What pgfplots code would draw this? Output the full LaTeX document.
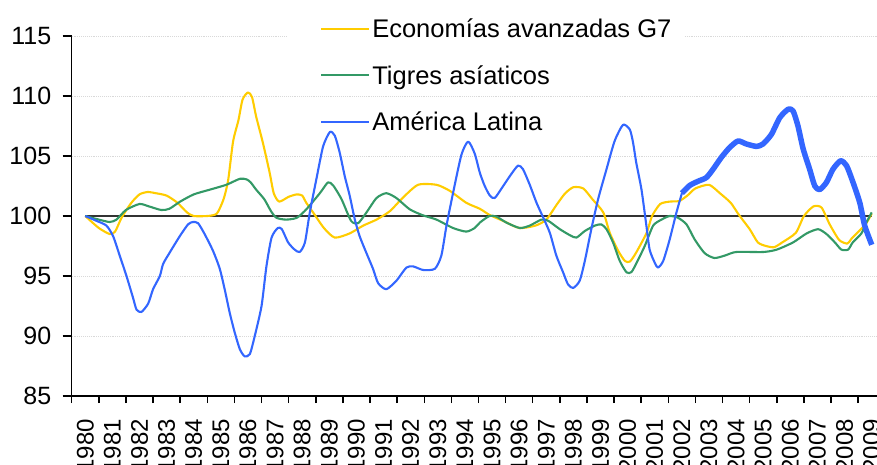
\documentclass[border=0pt]{standalone}
\usepackage{fontspec}
\setmainfont{Liberation Sans}
\usepackage{pgfplots}
\pgfplotsset{compat=1.18}
\definecolor{cY}{HTML}{FFCC00}
\definecolor{cG}{HTML}{339966}
\definecolor{cB}{HTML}{3366FF}
\definecolor{cGrid}{HTML}{D9D9D9}
\begin{document}
\begin{tikzpicture}
\begin{axis}[
  at={(0,0)}, anchor=south west,
  scale only axis, width=813.6bp, height=360bp,
  xmin=1979.5, xmax=2009.5, ymin=85, ymax=115,
  axis x line=bottom, axis y line=left,
  axis line style={-, line width=1.5bp, black},
  xtick={1980,...,2009},
  minor xtick={1979.5,1980.5,...,2009.5},
  ytick={85,90,...,115},
  extra y ticks={90,95,105,110},
  extra y tick labels={},
  extra y tick style={grid=major, major tick length=0pt},
  tick align=outside,
  major tick length=9bp, minor tick length=7bp,
  tick style={black, line width=1.5bp},
  major x tick style={draw=none},
  /pgf/number format/1000 sep={},
  /pgf/number format/assume math mode=true,
  tick label style={font=\fontsize{25bp}{29bp}\selectfont},
  xticklabel style={rotate=90, anchor=east, font=\fontsize{24bp}{28bp}\selectfont},
  xticklabel shift=10.5bp,
  yticklabel shift=8bp,
  grid style={cGrid, line width=0.9bp, densely dotted},
  legend style={at={(0.288,1.07)}, anchor=north west, draw=none, fill=none,
    font=\fontsize{25.5bp}{29bp}\selectfont, row sep=22bp, inner xsep=14bp, inner ysep=6bp,
    cells={anchor=west}},
  legend image code/.code={\draw[#1, line width=2.1bp] (0bp,0bp) -- (48bp,0bp);},
  every axis plot/.append style={line join=round},
]
% 115 gridline, interrupted behind the legend
\addplot[cGrid, line width=0.9bp, densely dotted, forget plot] coordinates {(1979.5,115) (1987.44,115)};
\addplot[cGrid, line width=0.9bp, densely dotted, forget plot] coordinates {(2002.11,115) (2009.5,115)};
\addplot[black!80, line width=2bp, forget plot] coordinates {(1980,100) (2009,100)};

\addplot[cY, line width=2.1bp, smooth, tension=0.4] coordinates {
(1980,100) (1980.5,99.0) (1980.9,98.5) (1981.1,98.7) (1981.35,99.9) (1981.7,101.1) (1982,101.8) (1982.3,102.0) (1982.6,101.9) (1983,101.7) (1983.4,101.1) (1983.75,100.3) (1984,100) (1984.5,100) (1984.85,100.2) (1985.1,101.4) (1985.27,103) (1985.45,106.2) (1985.65,108) (1985.8,109.7) (1986,110.3) (1986.15,109.9) (1986.3,108.3) (1986.55,106.1) (1986.8,103.6) (1986.95,101.9) (1987.15,101.2) (1987.5,101.6) (1987.8,101.8) (1988,101.7) (1988.15,101.1) (1988.4,100.3) (1988.8,99.0) (1989.2,98.2) (1989.75,98.55) (1990.25,99.2) (1990.74,99.7) (1991.23,100.4) (1991.7,101.5) (1992.27,102.6) (1992.95,102.6) (1993.44,102.1) (1994.05,101.1) (1994.55,100.6) (1994.9,100.1) (1995.4,99.6) (1996,99.0) (1996.6,99.2) (1997,99.7) (1997.4,101) (1997.7,101.9) (1998,102.4) (1998.36,102.3) (1998.7,101.4) (1999.1,100.3) (1999.34,98.6) (1999.65,97.1) (1999.9,96.25) (2000.08,96.2) (2000.3,96.9) (2000.7,98.6) (2000.9,100) (2001.2,101) (2001.55,101.2) (2001.9,101.25) (2002.2,101.7) (2002.5,102.3) (2003,102.6) (2003.4,101.9) (2003.8,101.1) (2004.1,100.1) (2004.5,98.9) (2004.8,97.8) (2005.1,97.5) (2005.4,97.4) (2005.7,97.8) (2006.2,98.6) (2006.5,100.0) (2006.85,100.8) (2007.15,100.7) (2007.45,99.3) (2007.8,98) (2008.1,97.7) (2008.25,98.1) (2008.6,98.9) (2008.8,99.4) (2009,100.2)
};
\addlegendentry{Economías avanzadas G7}

\addplot[cG, line width=2.1bp, smooth, tension=0.4] coordinates {
(1980,100) (1980.5,99.7) (1980.9,99.5) (1981.15,99.7) (1981.5,100.5) (1982,101) (1982.35,100.8) (1982.8,100.5) (1983.1,100.6) (1983.5,101.2) (1984,101.8) (1984.6,102.2) (1985.2,102.6) (1985.7,103.1) (1985.95,103.05) (1986.1,102.8) (1986.3,102.2) (1986.6,101.4) (1986.85,100.4) (1987.05,99.85) (1987.4,99.7) (1987.8,99.85) (1988.15,100.55) (1988.65,101.9) (1988.95,102.8) (1989.14,102.55) (1989.45,101.4) (1989.8,99.6) (1990.06,99.4) (1990.37,100.3) (1990.74,101.5) (1991.1,101.9) (1991.47,101.5) (1991.97,100.55) (1992.46,100.05) (1992.95,99.7) (1993.56,99.0) (1994.05,98.7) (1994.36,99.0) (1994.55,99.45) (1994.9,100) (1995.16,99.95) (1995.53,99.45) (1996.02,99.0) (1996.39,99.2) (1996.82,99.7) (1997.07,99.6) (1997.5,98.9) (1997.87,98.4) (1998.11,98.2) (1998.42,98.75) (1998.79,99.2) (1999.03,99.3) (1999.22,98.9) (1999.46,97.8) (1999.71,96.25) (1999.96,95.3) (2000.14,95.33) (2000.33,96.1) (2000.63,97.5) (2000.94,99.2) (2001.25,99.7) (2001.55,100) (2001.85,99.86) (2002.17,99.3) (2002.47,98.05) (2002.84,96.9) (2003.2,96.5) (2003.58,96.7) (2004,97.0) (2005,97.0) (2005.5,97.2) (2006.1,97.8) (2006.6,98.55) (2007.02,98.9) (2007.33,98.5) (2007.64,97.8) (2007.88,97.2) (2008.13,97.2) (2008.3,97.8) (2008.62,98.55) (2008.8,99.45) (2009,100.3)
};
\addlegendentry{Tigres asíaticos}

\addplot[cB, line width=2.1bp, smooth, tension=0.4] coordinates {
(1980,100) (1980.41,99.6) (1980.78,99.2) (1981.03,98.3) (1981.27,96.7) (1981.52,95.0) (1981.76,93.2) (1981.89,92.2) (1982.07,92.0) (1982.32,92.7) (1982.5,93.9) (1982.75,95.0) (1982.87,96.0) (1983.1,96.9) (1983.48,98.3) (1983.79,99.3) (1983.97,99.5) (1984.16,99.4) (1984.4,98.5) (1984.71,97.1) (1984.96,95.6) (1985.14,93.9) (1985.33,91.9) (1985.51,90.3) (1985.7,88.9) (1985.88,88.3) (1986.07,88.5) (1986.25,90.0) (1986.5,92.5) (1986.68,95.8) (1986.87,98.2) (1987.1,99.0) (1987.25,98.9) (1987.48,97.8) (1987.72,97.2) (1987.91,97.0) (1988.1,97.8) (1988.28,100.3) (1988.52,103.05) (1988.77,105.8) (1989.02,107.0) (1989.2,106.7) (1989.38,105.3) (1989.57,103.3) (1989.75,101.7) (1989.94,99.7) (1990.12,98.3) (1990.37,96.9) (1990.61,95.6) (1990.8,94.4) (1991.1,93.9) (1991.47,94.6) (1991.84,95.7) (1992.09,95.8) (1992.46,95.5) (1992.89,95.6) (1993.13,96.7) (1993.32,99.2) (1993.56,101.9) (1993.87,105.1) (1994.12,106.2) (1994.36,105.2) (1994.55,103.6) (1994.73,102.5) (1994.92,101.7) (1995.1,101.5) (1995.41,102.5) (1995.71,103.5) (1995.96,104.2) (1996.14,103.9) (1996.39,102.6) (1996.64,101.1) (1996.88,99.9) (1997.13,98.6) (1997.37,96.7) (1997.62,95.3) (1997.8,94.3) (1997.99,94.0) (1998.23,94.6) (1998.42,96.25) (1998.66,98.9) (1998.91,101.4) (1999.22,103.9) (1999.52,106.25) (1999.83,107.6) (2000.08,107.2) (2000.2,106.1) (2000.32,104.4) (2000.51,102.2) (2000.69,99.2) (2000.81,97.2) (2001,96.1) (2001.12,95.7) (2001.31,96.25) (2001.55,98.05) (2001.8,100.3) (2002,101.9)
};
\addlegendentry{América Latina}

\addplot[cB, line width=5.5bp, smooth, tension=0.4, forget plot] coordinates {
(2002,101.9) (2002.29,102.55) (2002.6,102.9) (2002.9,103.2) (2003.15,103.9) (2003.46,104.9) (2003.76,105.7) (2004.07,106.25) (2004.38,106.0) (2004.75,105.8) (2004.99,106.0) (2005.3,106.8) (2005.61,108.2) (2005.92,108.9) (2006.1,108.75) (2006.28,107.5) (2006.47,105.6) (2006.71,103.9) (2006.9,102.5) (2007.08,102.2) (2007.33,102.8) (2007.57,103.9) (2007.85,104.6) (2008.07,104.2) (2008.31,102.8) (2008.56,101.1) (2008.74,99.2) (2009,97.6)
};
\end{axis}
\pgfresetboundingbox
\path[use as bounding box] (-71.7bp,-69bp) rectangle (805.3bp,396bp);
\end{tikzpicture}
\end{document}
